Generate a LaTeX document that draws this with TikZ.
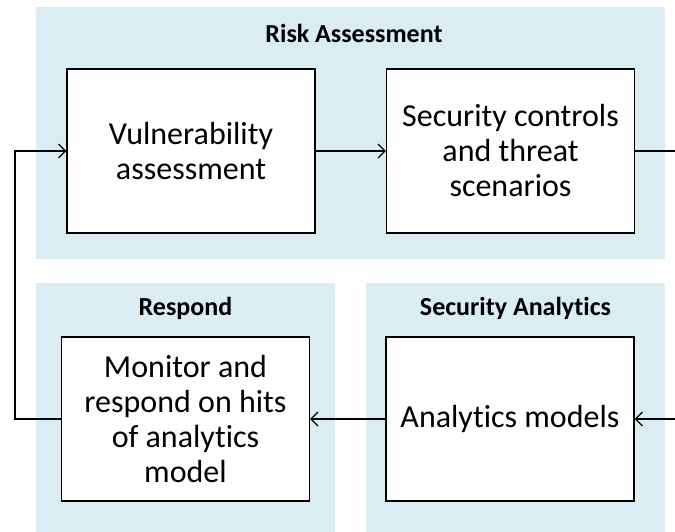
\documentclass[tikz,border=0pt]{standalone}
\usepackage{fontspec}
\setmainfont{Carlito}[Ligatures=NoCommon, RawFeature={-liga;-clig;-dlig}]
\usetikzlibrary{arrows.meta}
\definecolor{bandblue}{RGB}{218,237,243}
\begin{document}
\begin{tikzpicture}[x=1pt,y=-1pt,
  band/.style={fill=bandblue, draw=none, inner sep=0pt},
  box/.style={draw=black, line width=1.2pt, fill=white, align=center,
    font=\fontsize{32}{35}\selectfont, inner sep=0pt,
    minimum width=248pt, minimum height=164pt},
  title/.style={font=\bfseries\fontsize{26}{30}\selectfont, inner sep=0pt},
  line/.style={line width=1.2pt},
  conn/.style={line width=1.2pt, -{Straight Barb[length=7pt,width=14pt,line width=1.2pt]}}]
\useasboundingbox (0,0) rectangle (675,532);
% bands
\node[band, minimum width=629pt, minimum height=252pt] (ra) at (350.5,133) {};
\node[band, minimum width=299pt, minimum height=249pt] (rs) at (185.5,407.5) {};
\node[band, minimum width=299pt, minimum height=249pt] (sa) at (515.5,407.5) {};
% titles
\node[title] (tra) at (354,33) {Risk Assessment};
\node[title] (trs) at (185.5,308) {Respond};
\node[title] (tsa) at (515.5,308) {Security Analytics};
% boxes
\node[box] (vuln) at (191,151) {Vulnerability\\assessment};
\node[box] (sec) at (510.5,151) {Security controls\\and threat\\scenarios};
\node[box] (mon) at (185.5,419) {Monitor and\\respond on hits\\of analytics\\model};
\node[box] (ana) at (510,419) {Analytics models};
% connectors
\coordinate (outR) at (675,151);
\coordinate (inR) at (675,419);
\coordinate (fb) at (15,300);
\draw[conn] (vuln.east) -- (sec.west);
\draw[line] (sec.east) -- (outR);
\draw[conn] (inR) -- (ana.east);
\draw[conn] (ana.west) -- (mon.east);
\draw[conn] (mon.west) -- (mon.west -| fb) |- (vuln.west);
\end{tikzpicture}
\end{document}
